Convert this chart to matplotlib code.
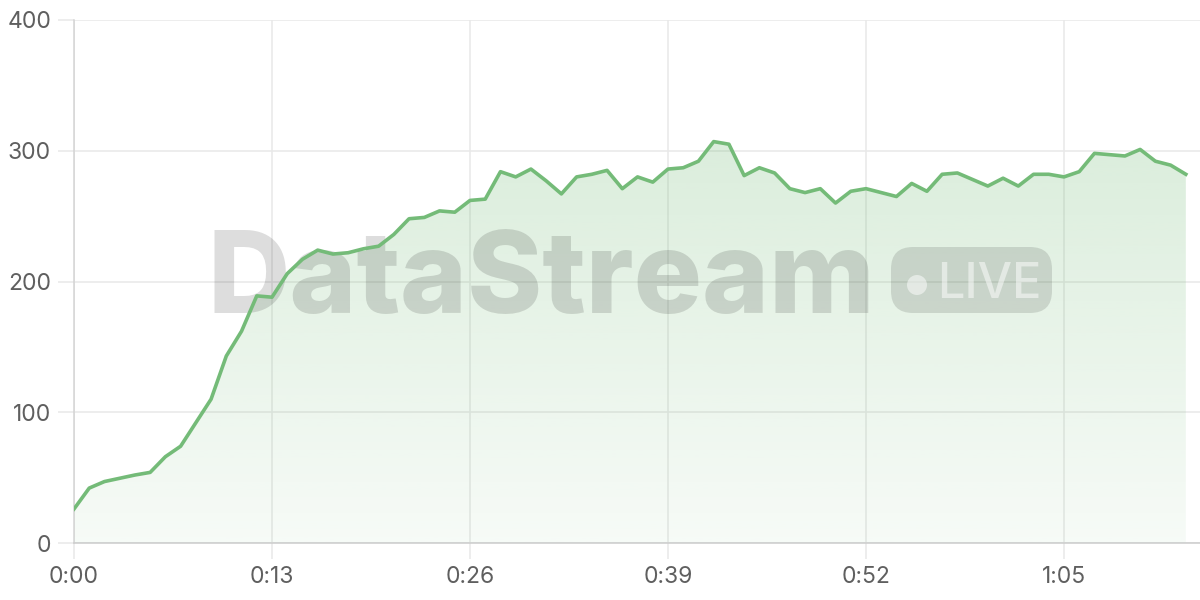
import numpy as np
import matplotlib.pyplot as plt
from matplotlib.patches import FancyBboxPatch, Circle
from matplotlib.ticker import FuncFormatter
from matplotlib.transforms import IdentityTransform

# throughput samples, one per second
values = [26, 42, 47, 49.5, 52, 54, 66, 74, 92, 110,
          143, 162, 189, 188, 206, 217, 224, 221, 222, 225,
          227, 236, 248, 249, 254, 253, 262, 263, 284, 280,
          286, 277, 267, 280, 282, 285, 271, 280, 276, 286,
          287, 292, 307, 305, 281, 287, 283, 271, 268, 271,
          260, 269, 271, 268, 265, 275, 269, 282, 283, 278,
          273, 279, 273, 282, 282, 280, 284, 298, 297, 296,
          301, 292, 289, 282]
seconds = np.arange(len(values))
x_ticks = [0, 13, 26, 39, 52, 65]
y_ticks = [0, 100, 200, 300, 400]

line_color = '#74bb78'
grid_color = '#e8e8e8'
text_color = '#5f5f5f'

plt.rcParams['font.family'] = ['Inter', 'DejaVu Sans']

fig = plt.figure(figsize=(12, 6), dpi=100)
ax = fig.add_axes([74 / 1200, 57 / 600, 1126 / 1200, 523 / 600])

# gradient area under the line
poly = ax.fill_between(seconds, values, 0, color='none', lw=0)
rgb = np.array([116, 187, 120]) / 255
alpha = np.linspace(0.26, 0.06, 256)
grad = np.zeros((256, 1, 4))
grad[:, 0, :3] = rgb
grad[:, 0, 3] = alpha
img = ax.imshow(grad, aspect='auto', extent=[0, seconds[-1], 0, max(values)],
                origin='upper', zorder=1)
img.set_clip_path(poly.get_paths()[0], transform=ax.transData)

ax.plot(seconds, values, color=line_color, lw=2.6, zorder=4, solid_joinstyle='round')

ax.set_xlim(0, 73.93)
ax.set_ylim(0, 400)
ax.set_xticks(x_ticks)
ax.set_yticks(y_ticks)
ax.xaxis.set_major_formatter(FuncFormatter(lambda v, p: f'{int(v) // 60}:{int(v) % 60:02d}'))
ax.grid(True, color=grid_color, lw=1.1)
ax.set_axisbelow(True)
ax.tick_params(length=11.5, width=1.1, color=grid_color, labelsize=16.5,
               labelcolor=text_color, pad=5)
for s in ['top', 'right']:
    ax.spines[s].set_visible(False)
ax.spines['left'].set_color('#d4d4d4')
ax.spines['bottom'].set_color('#cccccc')
ax.spines['left'].set_linewidth(1.1)
ax.spines['bottom'].set_linewidth(1.1)

# watermark
wm = (0, 0, 0, 0.135)
ax.text(208, 287, 'DataStream', transform=IdentityTransform(), fontsize=82,
        fontweight='heavy', family='Inter', color=wm, ha='left', va='baseline',
        zorder=3)
badge = FancyBboxPatch((891, 287), 161, 66, boxstyle='round,pad=0,rounding_size=22',
                       transform=IdentityTransform(), facecolor=(0, 0, 0, 0.12),
                       edgecolor='none', zorder=3)
ax.add_artist(badge)
ax.add_artist(Circle((917, 315), 10, transform=IdentityTransform(),
                     facecolor=(1, 1, 1, 0.5), edgecolor='none', zorder=3))
ax.text(937, 302, 'LIVE', transform=IdentityTransform(), fontsize=35,
        family='Inter', fontweight='medium', color=(1, 1, 1, 0.5),
        ha='left', va='baseline', zorder=3)

fig.savefig('out.png', dpi=100)
